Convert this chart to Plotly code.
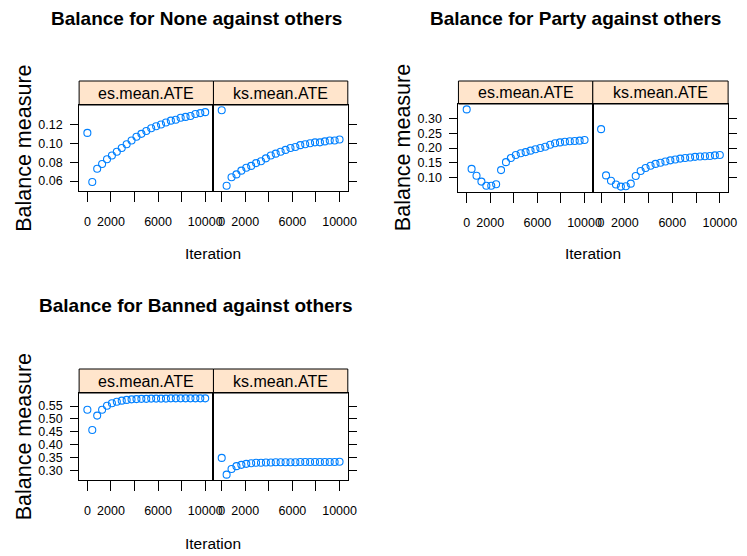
import plotly.graph_objects as go

# page body has an 8px default margin; the figure is sized to fit the window
OFF = 8
W, H = 747 - OFF, 556 - OFF

# ---------------- data ----------------
iters = [1, 417, 834, 1250, 1667, 2084, 2500, 2917, 3334, 3750, 4167, 4584, 5000,
         5417, 5834, 6250, 6667, 7084, 7500, 7917, 8334, 8750, 9167, 9584, 10000]

none_es = [0.111, 0.059, 0.073, 0.078, 0.083, 0.087, 0.091, 0.095, 0.099, 0.103, 0.107, 0.110, 0.113,
           0.116, 0.118, 0.120, 0.122, 0.124, 0.125, 0.127, 0.128, 0.129, 0.131, 0.132, 0.133]
none_ks = [0.135, 0.055, 0.064, 0.067, 0.071, 0.074, 0.076, 0.079, 0.081, 0.084, 0.087, 0.089, 0.091,
           0.093, 0.095, 0.096, 0.098, 0.099, 0.100, 0.101, 0.101, 0.102, 0.103, 0.103, 0.104]
party_es = [0.331, 0.129, 0.106, 0.086, 0.072, 0.072, 0.077, 0.125, 0.152, 0.166, 0.176, 0.182, 0.186,
            0.191, 0.196, 0.200, 0.204, 0.211, 0.216, 0.219, 0.221, 0.223, 0.224, 0.225, 0.227]
party_ks = [0.264, 0.107, 0.089, 0.076, 0.069, 0.070, 0.079, 0.105, 0.122, 0.132, 0.140, 0.146, 0.150,
            0.154, 0.158, 0.161, 0.164, 0.166, 0.168, 0.170, 0.171, 0.172, 0.173, 0.175, 0.176]
banned_es = [0.536, 0.457, 0.513, 0.536, 0.551, 0.561, 0.567, 0.571, 0.574, 0.576, 0.577, 0.578, 0.578,
             0.579, 0.579, 0.579, 0.579, 0.580, 0.580, 0.580, 0.580, 0.580, 0.580, 0.580, 0.580]
banned_ks = [0.349, 0.284, 0.306, 0.317, 0.322, 0.326, 0.328, 0.330, 0.330, 0.331, 0.331, 0.332, 0.332,
             0.332, 0.332, 0.332, 0.333, 0.333, 0.333, 0.333, 0.333, 0.333, 0.333, 0.333, 0.334]

panel_names = ["es.mean.ATE", "ks.mean.ATE"]
titles = ["Balance for None against others",
          "Balance for Party against others",
          "Balance for Banned against others"]
x_tickvals = [0, 2000, 4000, 6000, 8000, 10000]
x_ticktext = ["0", "2000", "", "6000", "", "10000"]
none_yticks = [0.06, 0.08, 0.10, 0.12]
none_ylabels = ["0.06", "0.08", "0.10", "0.12"]
party_yticks = [0.10, 0.15, 0.20, 0.25, 0.30]
party_ylabels = ["0.10", "0.15", "0.20", "0.25", "0.30"]
banned_yticks = [0.30, 0.35, 0.40, 0.45, 0.50, 0.55]
banned_ylabels = ["0.30", "0.35", "0.40", "0.45", "0.50", "0.55"]
xlab = "Iteration"
ylab = "Balance measure"

# ---------------- styling / layout ----------------
FONT = "Liberation Sans, Arial, Helvetica, sans-serif"
POINT_COLOR = "#0080FF"
STRIP_FILL = "#FFE5CC"
TICK_SIZE = 12.5
XLAB_SIZE = 15.5
YLAB_SIZE = 21.5
STRIP_SIZE = 16
TITLE_SIZE = 19


def fx(px):
    return (px - OFF) / W


def fy(py):
    return 1 - (py - OFF) / H


def pad_range(vals, frac=0.07):
    lo, hi = min(vals), max(vals)
    d = (hi - lo) * frac
    return [lo - d, hi + d]


groups = [
    dict(title=titles[0], es=none_es, ks=none_ks, yt=none_yticks, yl=none_ylabels,
         L=80, M=216, R=352, ST=81, PT=105, PB=191, TX=199, TY=18, XLY=254, YLX=24),
    dict(title=titles[1], es=party_es, ks=party_ks, yt=party_yticks, yl=party_ylabels,
         L=464, M=600, R=737, ST=81, PT=104, PB=192, TX=583, TY=18, XLY=254, YLX=408),
    dict(title=titles[2], es=banned_es, ks=banned_ks, yt=banned_yticks, yl=banned_ylabels,
         L=80, M=216, R=352, ST=369, PT=393, PB=480, TX=198, TY=305, XLY=543, YLX=24),
]

xrange_ = pad_range(iters)

fig = go.Figure()
layout = dict(width=W, height=H, margin=dict(l=0, r=0, t=0, b=0),
              paper_bgcolor="white", plot_bgcolor="white", showlegend=False,
              font=dict(family=FONT, color="black"))
shapes = []
annotations = []

ax = 0
for g in groups:
    yr = pad_range(g["es"] + g["ks"])
    for k, (name, vals, x0, x1) in enumerate([("es", g["es"], g["L"], g["M"]),
                                              ("ks", g["ks"], g["M"], g["R"])]):
        ax += 1
        xa = "x" if ax == 1 else f"x{ax}"
        ya = "y" if ax == 1 else f"y{ax}"
        fig.add_trace(go.Scatter(
            x=iters, y=vals, mode="markers", xaxis=xa, yaxis=ya,
            marker=dict(symbol="circle-open", size=7, color=POINT_COLOR,
                        line=dict(width=1.1, color=POINT_COLOR)),
            hoverinfo="x+y"))
        dom_x = [fx(x0), fx(x1)]
        dom_y = [fy(g["PB"]), fy(g["PT"])]
        layout["xaxis" if ax == 1 else f"xaxis{ax}"] = dict(
            domain=dom_x, range=xrange_, anchor=ya, side="bottom",
            showgrid=False, zeroline=False, showline=True, mirror=True,
            linecolor="black", linewidth=1,
            ticks="outside", ticklen=10, tickwidth=1, tickcolor="black",
            tickvals=x_tickvals, ticktext=x_ticktext, ticklabelstandoff=9,
            tickfont=dict(family=FONT, size=TICK_SIZE, color="black"))
        layout["yaxis" if ax == 1 else f"yaxis{ax}"] = dict(
            domain=dom_y, range=yr, anchor=xa,
            side="left" if k == 0 else "right",
            showgrid=False, zeroline=False, showline=True, mirror=True,
            linecolor="black", linewidth=1,
            ticks="outside", ticklen=8, tickwidth=1, tickcolor="black",
            tickvals=g["yt"], ticktext=g["yl"], showticklabels=(k == 0),
            ticklabelstandoff=5,
            tickfont=dict(family=FONT, size=TICK_SIZE, color="black"))
        # top ticks above the strip
        tax = 100 + ax
        layout[f"xaxis{tax}"] = dict(
            domain=dom_x, range=xrange_, anchor="free", position=fy(g["ST"]),
            overlaying=xa, side="top", showgrid=False, zeroline=False,
            showline=False, ticks="outside", ticklen=10, tickwidth=1,
            tickcolor="black", tickvals=x_tickvals, showticklabels=False)
        # strip
        shapes.append(dict(type="rect", xref="paper", yref="paper",
                           x0=fx(x0), x1=fx(x1), y0=fy(g["PT"]), y1=fy(g["ST"]),
                           fillcolor=STRIP_FILL, line=dict(color="black", width=1),
                           layer="below"))
        annotations.append(dict(text=panel_names[k], xref="paper", yref="paper",
                                x=fx((x0 + x1) / 2), y=fy((g["PT"] + g["ST"]) / 2),
                                xanchor="center", yanchor="middle", showarrow=False,
                                font=dict(family=FONT, size=STRIP_SIZE, color="black")))
    # main title
    annotations.append(dict(text=g["title"], xref="paper", yref="paper",
                            x=fx(g["TX"]), y=fy(g["TY"]), xanchor="center", yanchor="middle",
                            showarrow=False,
                            font=dict(family=FONT, size=TITLE_SIZE, color="black", weight="bold")))
    # x label
    annotations.append(dict(text=xlab, xref="paper", yref="paper",
                            x=fx((g["L"] + g["R"]) / 2), y=fy(g["XLY"]),
                            xanchor="center", yanchor="middle", showarrow=False,
                            font=dict(family=FONT, size=XLAB_SIZE, color="black")))
    # y label
    annotations.append(dict(text=ylab, xref="paper", yref="paper",
                            x=fx(g["YLX"]), y=fy((g["PT"] + g["PB"]) / 2),
                            xanchor="center", yanchor="middle", textangle=-90,
                            showarrow=False,
                            font=dict(family=FONT, size=YLAB_SIZE, color="black")))

layout["shapes"] = shapes
layout["annotations"] = annotations
fig.update_layout(**layout)
fig.write_html("out.html")
